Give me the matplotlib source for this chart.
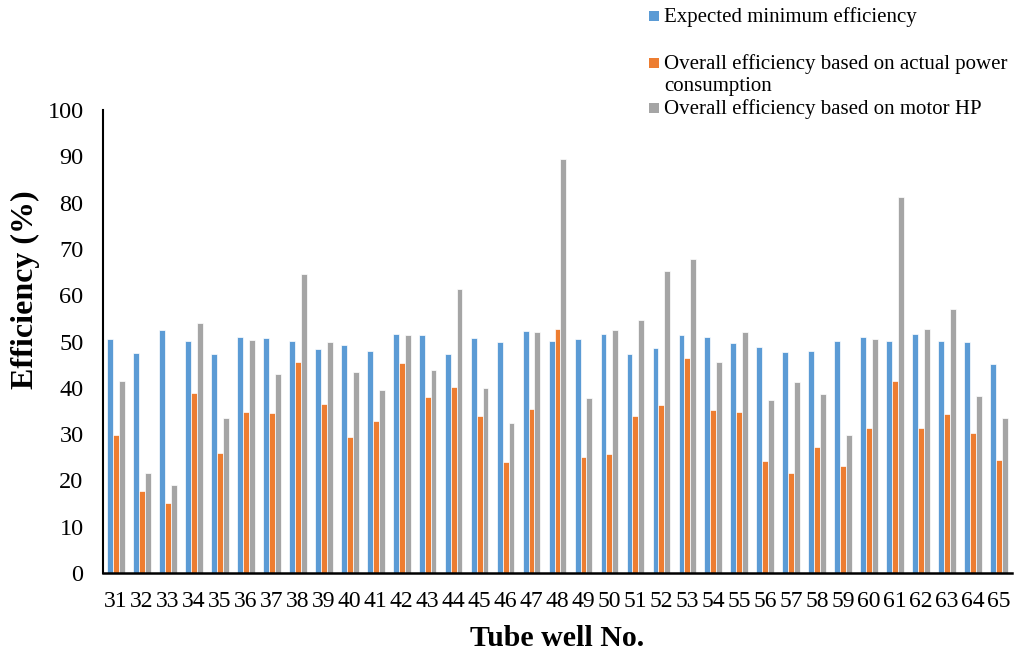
import matplotlib
matplotlib.use("Agg")
import matplotlib.pyplot as plt
from matplotlib.patches import Rectangle
import numpy as np

plt.rcParams['font.family'] = ['Liberation Serif', 'DejaVu Serif']

# Tube well numbers
wells = [str(n) for n in range(31, 66)]

series_names = [
    "Expected minimum efficiency",
    "Overall efficiency based on actual power\nconsumption",
    "Overall efficiency based on motor HP",
]
series_colors = ["#5B9BD5", "#ED7D31", "#A5A5A5"]

expected_min = [50.6, 47.5, 52.4, 50.2, 47.3, 51.0, 50.8, 50.1, 48.4, 49.2,
                48.0, 51.7, 51.4, 47.4, 50.8, 50.0, 52.3, 50.2, 50.6, 51.7,
                47.2, 48.5, 51.3, 51.0, 49.7, 48.8, 47.8, 48.0, 50.1, 50.9,
                50.1, 51.6, 50.2, 50.0, 45.1]
actual_power = [29.8, 17.8, 15.2, 38.8, 26.0, 34.7, 34.5, 45.6, 36.5, 29.4,
                32.8, 45.3, 38.0, 40.1, 33.9, 24.0, 35.5, 52.8, 25.1, 25.6,
                34.0, 36.3, 46.5, 35.3, 34.7, 24.1, 21.7, 27.3, 23.1, 31.3,
                41.5, 31.4, 34.3, 30.3, 24.4]
motor_hp = [41.5, 21.7, 19.0, 54.1, 33.4, 50.3, 43.0, 64.6, 50.0, 43.4,
            39.5, 51.5, 43.9, 61.3, 40.0, 32.5, 52.1, 89.4, 37.9, 52.5,
            54.7, 65.2, 67.9, 45.6, 52.1, 37.4, 41.2, 38.7, 29.9, 50.5,
            81.3, 52.7, 57.0, 38.2, 33.4]

W, H = 1018, 655
fig = plt.figure(figsize=(W / 100, H / 100), dpi=100)
ax = fig.add_axes([103 / W, 82 / H, 909 / W, 463 / H])

x = np.arange(len(wells))
bw = 0.227
for i, (vals, col) in enumerate(zip([expected_min, actual_power, motor_hp], series_colors)):
    ax.bar(x + (i - 1) * bw, vals, width=bw, color=col, edgecolor="white",
           linewidth=0.5, zorder=2)

ax.set_xlim(-0.5, len(wells) - 0.5)
ax.set_ylim(0, 100)
ax.set_yticks(np.arange(0, 101, 10))
ax.set_xticks(x)
ax.set_xticklabels(wells)
ax.tick_params(axis="y", length=0, pad=14, labelsize=17.5)
ax.tick_params(axis="x", length=0, pad=13, labelsize=17)

for s in ["top", "right"]:
    ax.spines[s].set_visible(False)
ax.spines["left"].set_linewidth(1.5)
ax.spines["bottom"].set_linewidth(1.8)

fig.text(25 / W, 1 - 290 / H, "Efficiency (%)", rotation=90, fontsize=23,
         fontweight="bold", ha="center", va="center")
fig.text(557 / W, 1 - 638 / H, "Tube well No.", fontsize=21.5,
         fontweight="bold", ha="center", va="center")

# Legend block in the upper right
marker_y = [16, 63, 108]
for name, col, my in zip(series_names, series_colors, marker_y):
    fig.add_artist(Rectangle((649 / W, 1 - (my + 5) / H), 10 / W, 10 / H,
                             transform=fig.transFigure, facecolor=col,
                             edgecolor="none"))
    fig.text(664 / W, 1 - (my - 9) / H, name, fontsize=15, ha="left",
             va="top", linespacing=1.25)

fig.savefig("out.png", dpi=100)
